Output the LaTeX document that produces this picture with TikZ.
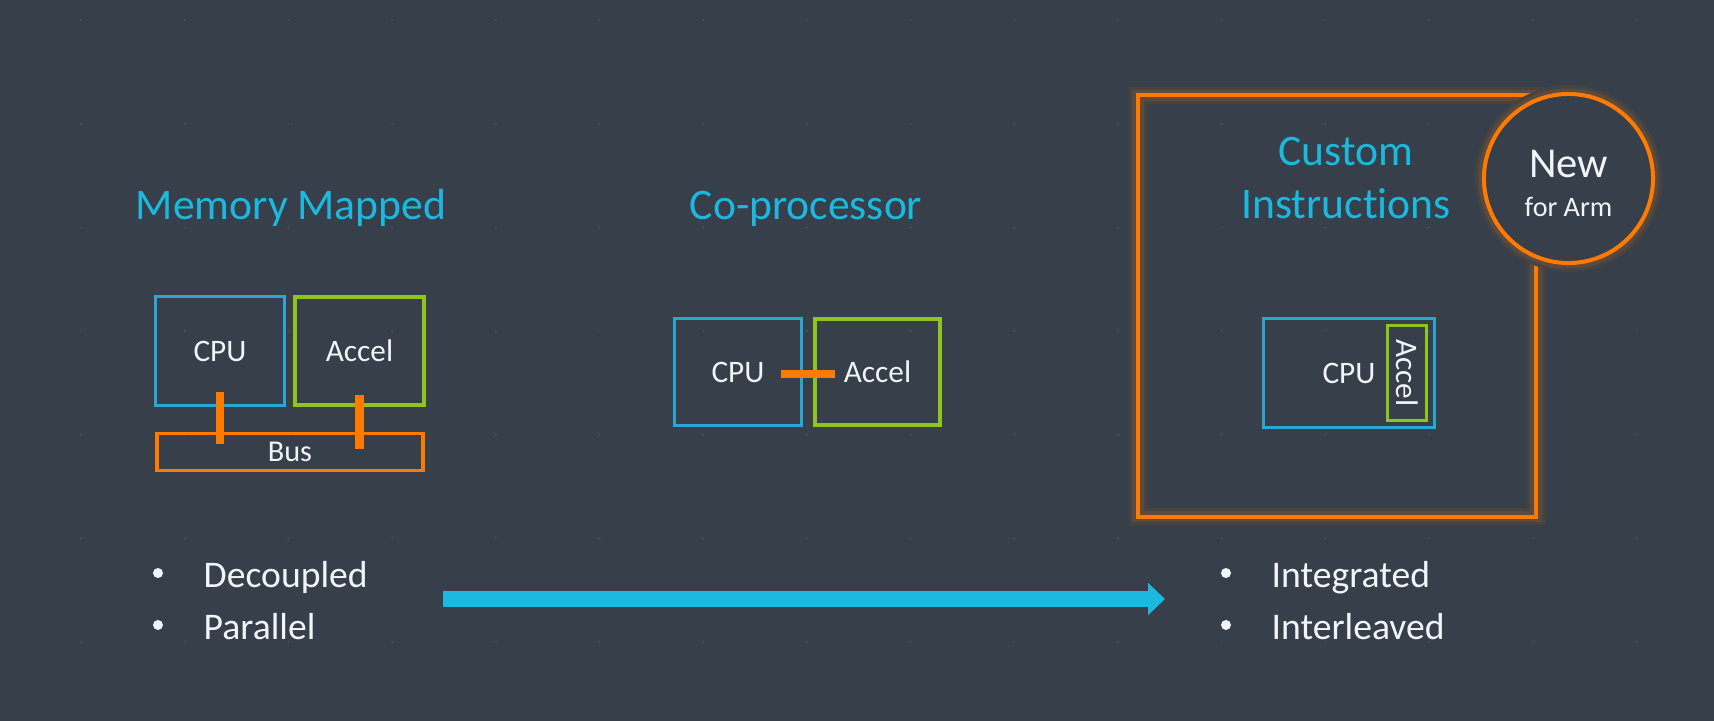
\documentclass[tikz,border=0pt]{standalone}
\usepackage{fontspec}
\setmainfont{Carlito}[Ligatures=NoCommon]
\usetikzlibrary{arrows.meta}

\definecolor{bgSlide}{HTML}{363F4A}
\definecolor{titleBlue}{HTML}{1BB8E0}
\definecolor{cpuBlue}{HTML}{2AA6D3}
\definecolor{accelGreen}{HTML}{8FC31F}
\definecolor{busOrange}{HTML}{FF7B00}
\definecolor{glowBrown}{HTML}{5C4A3E}
\definecolor{glowFaint}{HTML}{474440}
\definecolor{textWhite}{HTML}{F2F5F8}
\definecolor{gridDot}{HTML}{435465}

\begin{document}
\begin{tikzpicture}[x=0.01cm, y=-0.01cm,
rectCpu/.style={rectangle, draw=cpuBlue, line width=0.85pt, text=textWhite, font=\fontsize{8.9pt}{10pt}\selectfont, inner sep=0pt},
rectAccel/.style={rectangle, draw=accelGreen, line width=1.14pt, text=textWhite, font=\fontsize{8.9pt}{10pt}\selectfont, inner sep=0pt},
rectBus/.style={rectangle, draw=busOrange, line width=1pt, text=textWhite, font=\fontsize{8.6pt}{10pt}\selectfont, inner sep=0pt},
rectFrame/.style={rectangle, draw=busOrange, line width=1.14pt, minimum width=3.98cm, minimum height=4.21cm, preaction={draw=glowFaint, line width=5pt}, preaction={draw=glowBrown, line width=3.2pt}},
circBadge/.style={circle, draw=busOrange, fill=bgSlide, line width=1.14pt, minimum size=1.69cm, inner sep=0pt, preaction={draw=glowFaint, line width=5pt}, preaction={draw=glowBrown, line width=3.2pt}},
titleText/.style={text=titleBlue, font=\fontsize{12.4pt}{14pt}\selectfont, inner sep=0pt, anchor=base},
bulletText/.style={text=textWhite, font=\fontsize{10.7pt}{12pt}\selectfont, inner sep=0pt, anchor=base west},
bulletDot/.style={circle, fill=textWhite, minimum size=0.1cm, inner sep=0pt},
link/.style={draw=busOrange, line width=2.28pt},
flowArrow/.style={draw=titleBlue, line width=4.55pt, -{Triangle[length=4.8pt, width=8.9pt]}}
]

\fill[bgSlide] (0,0) rectangle (1714,721);
\useasboundingbox (0,0) rectangle (1714,721);

% faint grid of the slide
\foreach \gx in {0,...,16}
  \foreach \gy in {0,...,6}
    \fill[gridDot] (81+103.7*\gx, 20+103.7*\gy) circle (0.3pt);

% Memory Mapped
\node[titleText] (mmTitle) at (291,219) {Memory Mapped};

\node[rectCpu, minimum width=1.29cm, minimum height=1.09cm] (cpuMM) at (220,351) {CPU};
\node[rectAccel, minimum width=1.29cm, minimum height=1.08cm] (accelMM) at (359.5,351) {Accel};
\node[rectBus, minimum width=2.66cm, minimum height=0.37cm] (busMM) at (290,452) {Bus};

\draw[link] (cpuMM.south) ++(0,-15) -- ++(0,52);
\draw[link] (accelMM.south) ++(0,-12) -- ++(0,54);


% Co-processor
\node[titleText] (cpTitle) at (806,219) {Co-processor};

\node[rectCpu, minimum width=1.27cm, minimum height=1.07cm] (cpuCP) at (738,372) {CPU};
\node[rectAccel, minimum width=1.25cm, minimum height=1.06cm] (accelCP) at (877.5,372) {Accel};

\draw[link] (cpuCP.east) ++(-22.5,2) -- ++(54,0);


% Custom Instructions
\node[rectFrame] (ciFrame) at (1337,306) {};
\node[circBadge] (badge) at (1568.5,178.5) {};

\node[titleText] (ciTitleA) at (1346,166) {Custom};
\node[titleText] (ciTitleB) at (1346,218) {Instructions};

\node[text=textWhite, font=\fontsize{12.1pt}{14pt}\selectfont, inner sep=0pt, anchor=base] (badgeNew) at (1568.5,177) {New};
\node[text=textWhite, font=\fontsize{8pt}{10pt}\selectfont, inner sep=0pt, anchor=base] (badgeArm) at (1568.5,216) {for Arm};

\node[rectCpu, minimum width=1.71cm, minimum height=1.09cm] (cpuCI) at (1349,373) {CPU};
\node[rectAccel, line width=0.9pt, rotate=-90, minimum width=0.95cm, minimum height=0.39cm] (accelCI) at (1407,373) {Accel};


% bullets and the arrow between them
\node[bulletDot] (dotA) at (158,573) {};
\node[bulletText] (decoupled) at (203,587) {Decoupled};
\node[bulletDot] (dotB) at (158,625) {};
\node[bulletText] (parallel) at (203,639) {Parallel};

\node[bulletDot] (dotC) at (1226,573) {};
\node[bulletText] (integrated) at (1271,587) {Integrated};
\node[bulletDot] (dotD) at (1226,625) {};
\node[bulletText] (interleaved) at (1271,639) {Interleaved};

\coordinate (flowStart) at (443,599);
\coordinate (flowEnd) at (1165,599);
\draw[flowArrow] (flowStart) -- (flowEnd);

\end{tikzpicture}
\end{document}
